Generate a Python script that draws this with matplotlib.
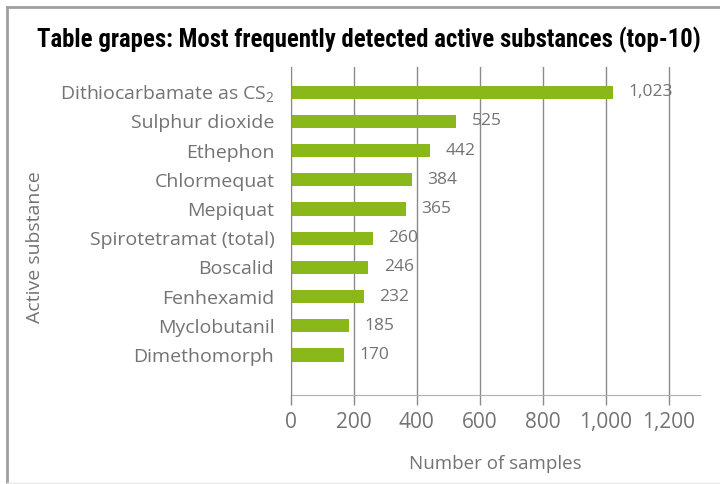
import matplotlib
matplotlib.use("Agg")
import matplotlib.pyplot as plt
from matplotlib.lines import Line2D
from matplotlib.ticker import FuncFormatter

categories = ["Dithiocarbamate as CS$_2$", "Sulphur dioxide", "Ethephon", "Chlormequat",
              "Mepiquat", "Spirotetramat (total)", "Boscalid", "Fenhexamid",
              "Myclobutanil", "Dimethomorph"]
values = [1023, 525, 442, 384, 365, 260, 246, 232, 185, 170]
xticks = [0, 200, 400, 600, 800, 1000, 1200]

title = "Table grapes: Most frequently detected active substances (top-10)"
xlabel = "Number of samples"
ylabel = "Active substance"

GREEN = "#8ab81a"
GRAY_TXT = "#737373"
GRID = "#8a8a8a"

plt.rcParams['font.family'] = ['Open Sans', 'DejaVu Sans']
plt.rcParams['mathtext.fontset'] = 'custom'
plt.rcParams['mathtext.rm'] = 'Open Sans'

fig = plt.figure(figsize=(7.2, 4.84), dpi=100)
ax = fig.add_axes([291/720, 1-395/484, 409/720, (395-67)/484])

ypos = list(range(len(categories)))
ax.barh(ypos, values, height=0.45, color=GREEN, zorder=3)
ax.set_ylim(len(categories) - 1 + 1.37, -0.86)
ax.set_xlim(0, 1300)

ax.set_yticks(ypos)
ax.set_yticklabels(categories, fontsize=14, color=GRAY_TXT)
ax.set_xticks(xticks)
ax.xaxis.set_major_formatter(FuncFormatter(lambda v, p: f"{int(v):,}"))
ax.tick_params(axis='x', labelsize=15, labelcolor=GRAY_TXT, color=GRID, length=7, width=1, pad=5)
ax.tick_params(axis='y', length=0, pad=12)

ax.grid(axis='x', color=GRID, linewidth=1, zorder=0)
for s in ['top', 'right']:
    ax.spines[s].set_visible(False)
ax.spines['left'].set_color(GRID)
ax.spines['left'].set_zorder(4)
ax.spines['bottom'].set_color("#b0b0b0")

for y, v in zip(ypos, values):
    ax.annotate(f"{v:,}", (v, y), xytext=(11, 0), textcoords='offset points',
                ha='left', va='center', fontsize=12.5, color=GRAY_TXT, zorder=5)

ax.set_xlabel(xlabel, fontsize=13.5, color=GRAY_TXT, labelpad=16)
fig.text(35/720, 1-247/484, ylabel, rotation=90, ha='center', va='center',
         fontsize=14, color=GRAY_TXT)

fig.text(37/720, 1-40/484, title, ha='left', va='center', fontsize=17.8, fontweight='bold',
         color='black', family=['Liberation Sans Narrow', 'Roboto Condensed', 'DejaVu Sans'])

# frame
fig.add_artist(Line2D([7/720, 7/720], [1-7/484, 1-483/484], transform=fig.transFigure, color="#a0a0a0", lw=2))
fig.add_artist(Line2D([7/720, 1], [1-7/484, 1-7/484], transform=fig.transFigure, color="#a0a0a0", lw=2))
fig.add_artist(Line2D([7/720, 1], [1-483/484, 1-483/484], transform=fig.transFigure, color="#e8e8e8", lw=1))

fig.savefig("out.png", dpi=100)
